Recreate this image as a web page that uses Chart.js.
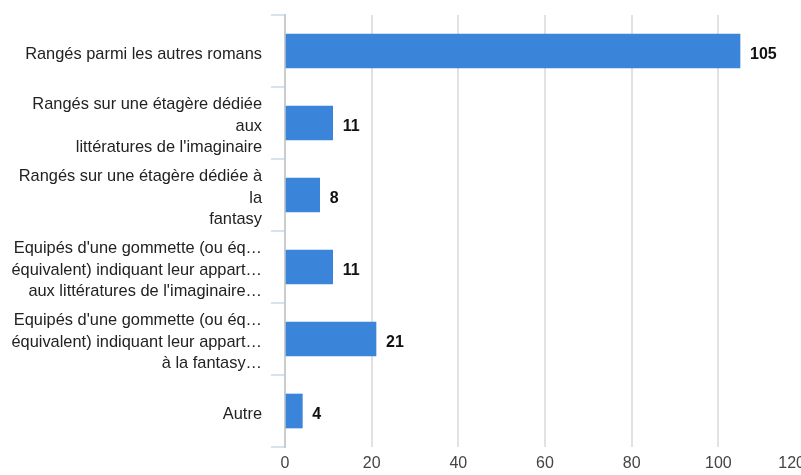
<!DOCTYPE html>
<html>
<head>
<meta charset="utf-8">
<script src="https://cdn.jsdelivr.net/npm/chart.js@4/dist/chart.umd.min.js"></script>
<style>
  html, body { margin: 0; padding: 0; background: #fff; overflow: hidden; }
  #wrap { width: 830px; height: 475px; }
</style>
</head>
<body>
<div id="wrap"><canvas id="chart" width="830" height="475"></canvas></div>
<script>
// Categories (multi-line, as shown in the picture)
const categories = [
    ['Rangés parmi les autres romans'],
    ['Rangés sur une étagère dédiée', 'aux', 'littératures de l\'imaginaire'],
    ['Rangés sur une étagère dédiée à', 'la', 'fantasy'],
    ['Equipés d\'une gommette (ou éq…', 'équivalent) indiquant leur appart…', 'aux littératures de l\'imaginaire…'],
    ['Equipés d\'une gommette (ou éq…', 'équivalent) indiquant leur appart…', 'à la fantasy…'],
    ['Autre']
];
const counts = [105, 11, 8, 11, 21, 4];
const xTicks = [0, 20, 40, 60, 80, 100, 120];

const fontFamily = "'Liberation Sans', Arial, sans-serif";

// Draw value labels next to each bar
const valueLabels = {
    id: 'valueLabels',
    afterDatasetsDraw(chart) {
        const ctx = chart.ctx;
        const meta = chart.getDatasetMeta(0);
        ctx.save();
        ctx.font = 'bold 16px ' + fontFamily;
        ctx.fillStyle = '#111';
        ctx.textAlign = 'left';
        ctx.textBaseline = 'middle';
        meta.data.forEach((bar, i) => {
            ctx.fillText(String(counts[i]), bar.x + 10, bar.y + 4);
        });
        ctx.restore();
    }
};

new Chart(document.getElementById('chart').getContext('2d'), {
    type: 'bar',
    data: {
        labels: categories,
        datasets: [{
            data: counts,
            backgroundColor: '#3a84d9',
            borderWidth: 0,
            barThickness: 34
        }]
    },
    options: {
        indexAxis: 'y',
        responsive: false,
        animation: false,
        layout: { padding: { top: 15, right: 25, left: 0, bottom: 0 } },
        plugins: {
            legend: { display: false },
            tooltip: { enabled: false }
        },
        scales: {
            x: {
                min: 0,
                max: 120,
                afterBuildTicks: (scale) => {
                    scale.ticks = xTicks.map(v => ({ value: v }));
                },
                afterFit: (scale) => {
                    scale.height = 28;
                    scale.paddingLeft = 0;
                    scale.paddingRight = 0;
                },
                grid: {
                    color: '#e2e2e2',
                    lineWidth: 2,
                    drawTicks: false
                },
                border: { display: false },
                ticks: {
                    padding: 7,
                    color: '#444',
                    font: { family: fontFamily, size: 16 },
                    // the last label sits a little left of its gridline
                    callback: (v) => v === 120 ? '120      ' : String(v)
                }
            },
            y: {
                afterFit: (scale) => {
                    scale.width = 285;
                    scale.paddingTop = 0;
                    scale.paddingBottom = 0;
                },
                grid: {
                    offset: true,
                    drawOnChartArea: false,
                    drawTicks: true,
                    tickLength: 14,
                    color: '#d8e3ef',
                    lineWidth: 2
                },
                border: { display: true, color: '#cccccc', width: 2 },
                ticks: {
                    padding: 9,
                    labelOffset: 3,
                    color: '#222',
                    font: { family: fontFamily, size: 16.4, lineHeight: 1.34 }
                }
            }
        }
    },
    plugins: [valueLabels]
});
</script>
</body>
</html>
